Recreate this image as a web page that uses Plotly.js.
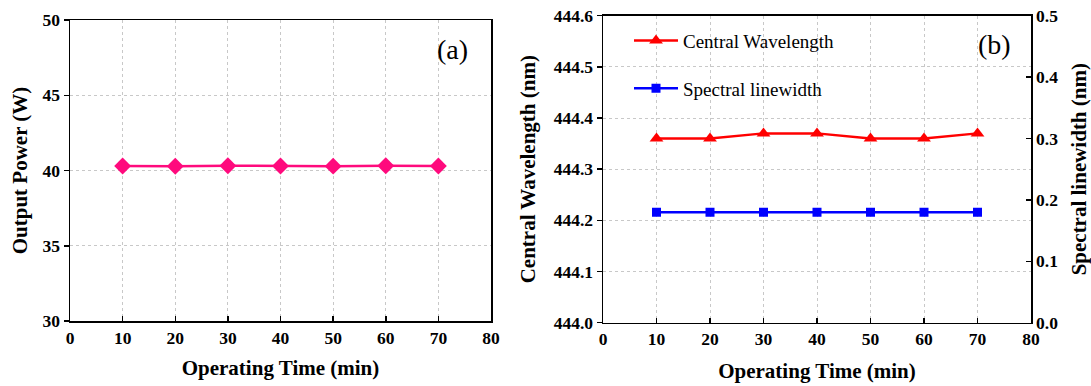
<!DOCTYPE html>
<html>
<head>
<meta charset="utf-8">
<script src="https://cdn.plot.ly/plotly-3.0.1.min.js"></script>
<style>html,body{margin:0;padding:0;background:#fff;}#chart{width:1091px;height:386px;}</style>
</head>
<body>
<div id="chart"></div>
<script>
const timeMin = [10, 20, 30, 40, 50, 60, 70];
const outputPower = [40.3, 40.28, 40.32, 40.3, 40.29, 40.32, 40.3];
const centralWavelength = [444.36, 444.36, 444.37, 444.37, 444.36, 444.36, 444.37];
const spectralLinewidth = [0.18, 0.18, 0.18, 0.18, 0.18, 0.18, 0.18];
const xTitle = 'Operating Time (min)';
const panelLabels = ['(a)', '(b)'];

const FONT = 'Liberation Serif, Times New Roman, serif';
const W = 1091, H = 386;
const px = v => v / W;
const py = v => (H - v) / H;

const traces = [
  {x: timeMin, y: outputPower, xaxis: 'x', yaxis: 'y', mode: 'lines+markers', name: 'Output Power',
   showlegend: false, line: {color: '#ff0a7d', width: 2.5}, marker: {symbol: 'diamond', size: 13, color: '#ff0a7d'}},
  {x: timeMin, y: centralWavelength, xaxis: 'x2', yaxis: 'y2', mode: 'lines+markers', name: 'Central Wavelength',
   legend: 'legend', line: {color: '#ff0000', width: 2.5}, marker: {symbol: 'triangle-up', size: 12, color: '#ff0000'}},
  {x: timeMin, y: spectralLinewidth, xaxis: 'x2', yaxis: 'y3', mode: 'lines+markers', name: 'Spectral linewidth',
   legend: 'legend2', line: {color: '#0000ff', width: 2.5}, marker: {symbol: 'square', size: 9, color: '#0000ff'}}
];

const tickFont = {family: FONT, size: 17.5, color: '#000', weight: 'bold'};
const titleFont = {family: FONT, size: 21, color: '#000', weight: 'bold'};
const gridCommon = {showgrid: true, gridcolor: '#c8c8c8', griddash: 'dot', gridwidth: 1, zeroline: false,
  showline: true, linecolor: '#000', linewidth: 1.5, tickcolor: '#000', tickwidth: 1.5, tickfont: tickFont};

const layout = {
  width: W, height: H,
  margin: {l: 0, r: 0, t: 0, b: 0},
  paper_bgcolor: '#fff', plot_bgcolor: '#fff',
  font: {family: FONT, color: '#000'},
  xaxis: Object.assign({}, gridCommon, {domain: [px(70), px(491)], anchor: 'y', range: [0, 80], dtick: 10,
    ticks: 'inside', ticklen: 5, mirror: true,
    title: {text: xTitle, font: titleFont, standoff: 14}}),
  yaxis: Object.assign({}, gridCommon, {domain: [py(321), py(20)], anchor: 'x', range: [30, 50], dtick: 5,
    ticks: 'outside', ticklen: 5, mirror: true,
    title: {text: 'Output Power (W)', font: titleFont, standoff: 9}}),
  xaxis2: Object.assign({}, gridCommon, {domain: [px(603), px(1031)], anchor: 'y2', range: [0, 80], dtick: 10,
    ticks: 'inside', ticklen: 5, mirror: true,
    title: {text: xTitle, font: titleFont, standoff: 15}}),
  yaxis2: Object.assign({}, gridCommon, {domain: [py(322.7), py(15.7)], anchor: 'x2', range: [444.0, 444.6], dtick: 0.1,
    tickformat: '.1f', ticks: 'outside', ticklen: 5,
    title: {text: 'Central Wavelength (nm)', font: titleFont, standoff: 12}}),
  yaxis3: Object.assign({}, gridCommon, {overlaying: 'y2', side: 'right', anchor: 'x2', range: [0, 0.5], dtick: 0.1,
    tickformat: '.1f', ticks: 'inside', ticklen: 5, showgrid: false,
    title: {text: 'Spectral linewidth (nm)', font: titleFont, standoff: 14}}),
  legend: {x: px(629), y: py(40.7), xanchor: 'left', yanchor: 'middle', bgcolor: 'rgba(0,0,0,0)',
    font: {family: FONT, size: 19, color: '#000'}, itemwidth: 44},
  legend2: {x: px(629), y: py(88.3), xanchor: 'left', yanchor: 'middle', bgcolor: 'rgba(0,0,0,0)',
    font: {family: FONT, size: 19, color: '#000'}, itemwidth: 44},
  annotations: [
    {text: panelLabels[0], xref: 'paper', yref: 'paper', x: px(452), y: py(49), xanchor: 'center', yanchor: 'middle',
     showarrow: false, font: {family: FONT, size: 28, color: '#000'}},
    {text: panelLabels[1], xref: 'paper', yref: 'paper', x: px(994), y: py(45), xanchor: 'center', yanchor: 'middle',
     showarrow: false, font: {family: FONT, size: 28, color: '#000'}}
  ]
};

Plotly.newPlot('chart', traces, layout, {displayModeBar: false, staticPlot: true});
</script>
</body>
</html>
